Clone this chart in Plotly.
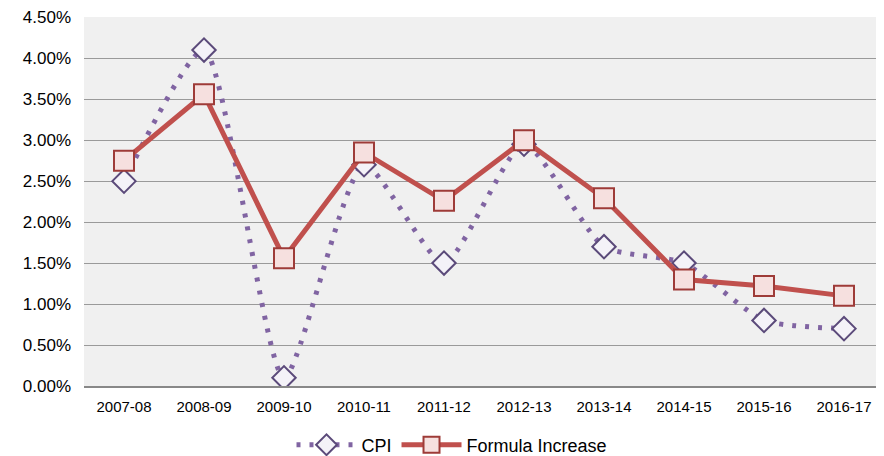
import plotly.graph_objects as go

years = ["2007-08", "2008-09", "2009-10", "2010-11", "2011-12",
         "2012-13", "2013-14", "2014-15", "2015-16", "2016-17"]
cpi = [0.025, 0.041, 0.001, 0.027, 0.015, 0.0295, 0.017, 0.015, 0.008, 0.007]
formula = [0.0275, 0.0356, 0.0156, 0.0285, 0.0226, 0.030, 0.0229, 0.013, 0.0122, 0.011]
y_ticks = [0, 0.005, 0.01, 0.015, 0.02, 0.025, 0.03, 0.035, 0.04, 0.045]

fig = go.Figure()
fig.add_trace(go.Scatter(
    x=years, y=cpi, name="CPI", mode="lines+markers",
    line=dict(color="#8064a2", width=5, dash="4px,9px", shape="spline", smoothing=0.6),
    marker=dict(symbol="diamond", size=18, color="#f4f2f8",
                line=dict(color="#5b4a7a", width=2)),
))
fig.add_trace(go.Scatter(
    x=years, y=formula, name="Formula Increase", mode="lines+markers",
    line=dict(color="#c0504d", width=5),
    marker=dict(symbol="square", size=20, color="#f6e0df",
                line=dict(color="#9e3b38", width=2)),
))

fig.update_layout(
    width=876, height=456,
    margin=dict(l=76, r=0, t=7, b=76),
    paper_bgcolor="white", plot_bgcolor="#f0f0f0",
    font=dict(family="Liberation Sans, Arial", color="black"),
    showlegend=True,
    legend=dict(orientation="h", x=0.46, xanchor="center", y=-0.16, yanchor="middle",
                font=dict(size=18), bgcolor="rgba(0,0,0,0)", itemwidth=60,
                traceorder="normal"),
)
fig.update_xaxes(type="category", showgrid=False, showline=True, linecolor="#888888",
                 linewidth=2, tickfont=dict(size=15), ticks="", range=[-0.5, 9.5],
                 ticklabelstandoff=6)
fig.update_yaxes(range=[0, 0.04503], tickvals=y_ticks, tickformat=".2%",
                 gridcolor="#9a9a9a", gridwidth=1, zeroline=False, showline=False,
                 tickfont=dict(size=17), ticks="", ticklabelstandoff=12,
                 ticklabeloverflow="allow")

fig.write_html("out.html")
